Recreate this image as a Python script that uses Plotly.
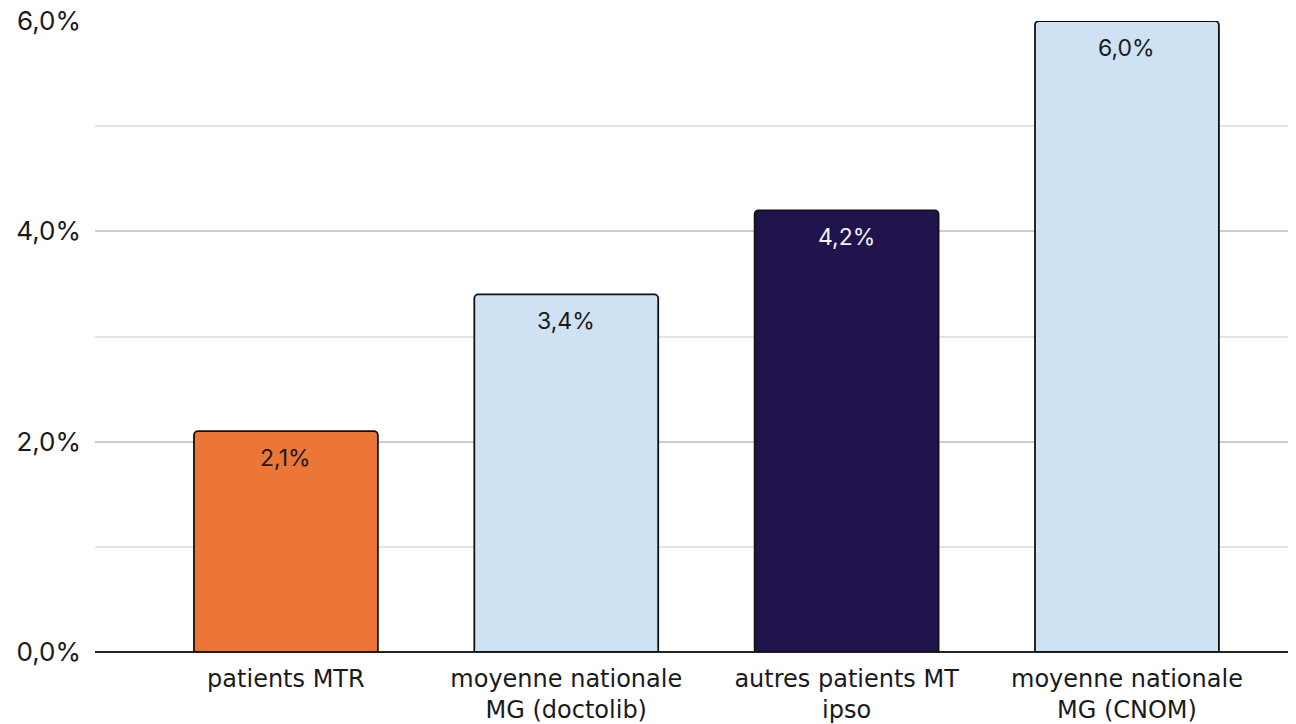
import plotly.graph_objects as go

categories = ["patients MTR", "moyenne nationale<br>MG (doctolib)", "autres patients MT<br>ipso", "moyenne nationale<br>MG (CNOM)"]
values = [2.1, 3.4, 4.2, 6.0]
bar_colors = ["#EC7538", "#CFE2F3", "#21134C", "#CFE2F3"]
label_colors = ["#1a1a1a", "#1a1a1a", "#F2F2F2", "#1a1a1a"]
y_ticks = [0, 2, 4, 6]
y_tick_text = [f"{t:.1f}".replace(".", ",") + "%" for t in y_ticks]

x_idx = list(range(len(categories)))

fig = go.Figure()
fig.add_trace(go.Bar(
    x=x_idx, y=values, width=0.656,
    marker=dict(color=bar_colors, line=dict(color="#111111", width=1.8)),
    cliponaxis=False, hoverinfo="skip",
))

for i, v in enumerate(values):
    fig.add_annotation(
        x=x_idx[i], y=v, text=f"{v:.1f}".replace(".", ",") + "%",
        showarrow=False, yanchor="middle", yshift=-27,
        font=dict(family="Inter", size=23, color=label_colors[i]),
    )

fig.update_layout(
    width=1296, height=724,
    margin=dict(l=87, r=8, t=13, b=80),
    paper_bgcolor="white", plot_bgcolor="white",
    barcornerradius=4,
    showlegend=False,
)
fig.update_xaxes(
    range=[-0.681, 3.603], automargin=False,
    tickmode="array", tickvals=x_idx, ticktext=categories,
    tickfont=dict(family="DejaVu Sans", size=24, color="#1a1a1a"),
    showgrid=False, showline=False, ticks="", zeroline=False,
    ticklabelstandoff=10, ticklabeloverflow="allow",
)
fig.update_yaxes(
    range=[0, 6], automargin=False,
    tickmode="array", tickvals=y_ticks, ticktext=y_tick_text,
    tickfont=dict(family="Inter", size=26, color="#1a1a1a"),
    showgrid=True, gridcolor="#CCCCCC", gridwidth=1.5,
    minor=dict(dtick=1, showgrid=True, gridcolor="#E3E3E3", gridwidth=1.5),
    zeroline=True, zerolinecolor="#222222", zerolinewidth=1.8,
    ticklabelstandoff=13, showline=False, ticklabeloverflow="allow",
)

fig.write_html("out.html")
